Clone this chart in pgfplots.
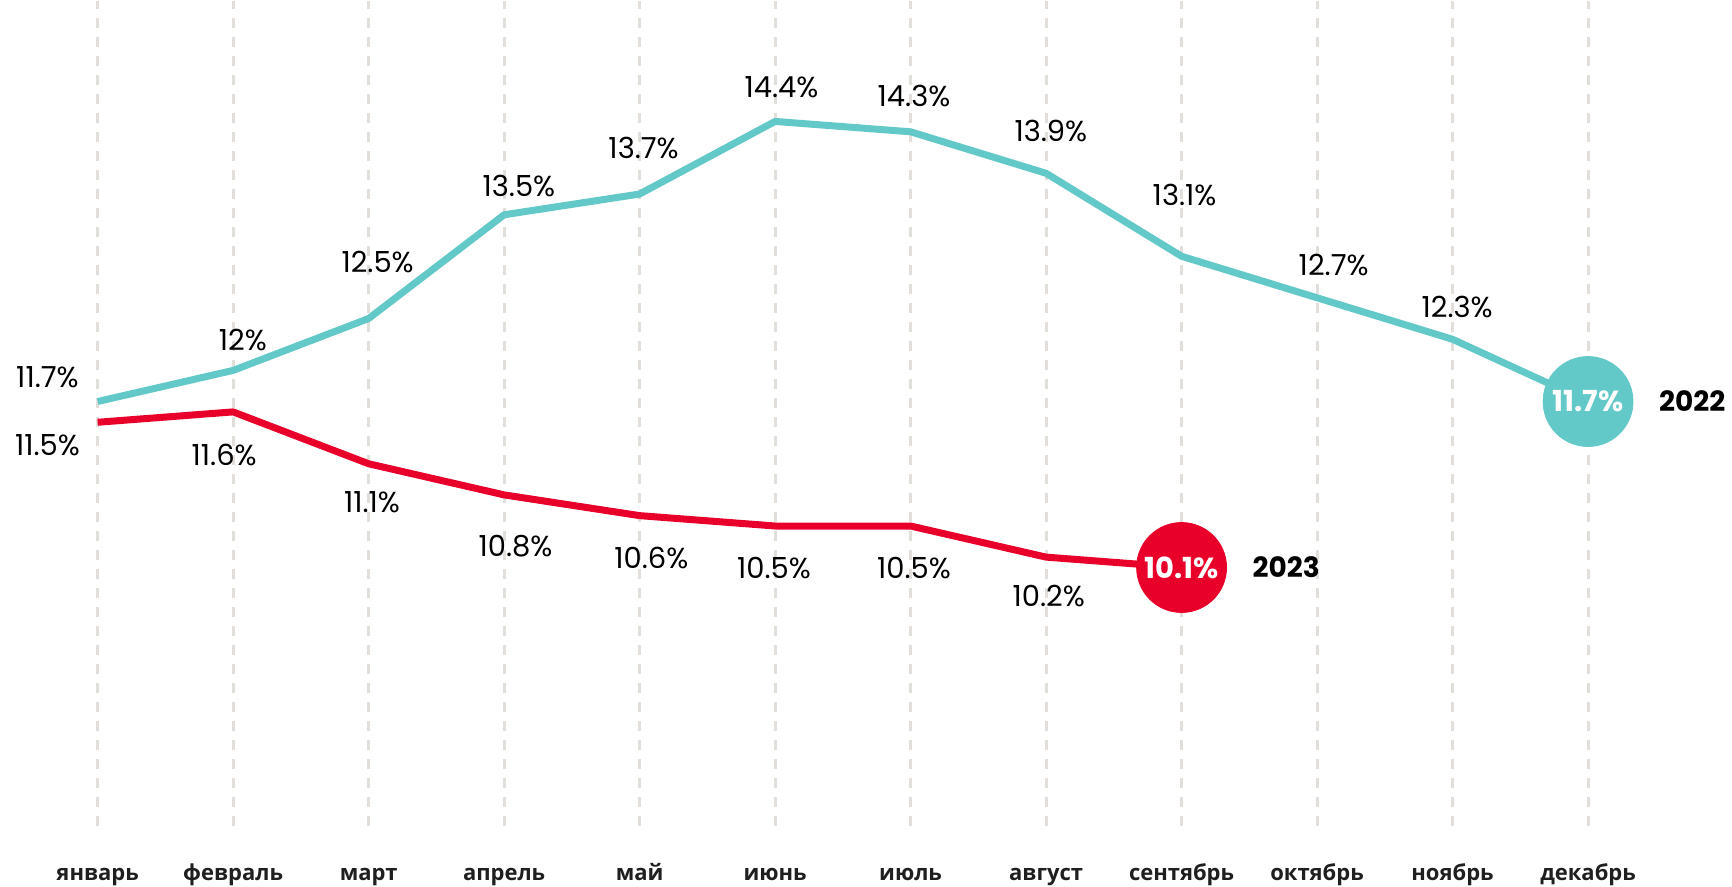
\documentclass[border=0pt]{standalone}
\usepackage{fontspec}
\setmainfont{Open Sans}
\newfontfamily\numfont{Poppins}
\usepackage{pgfplots}
\pgfplotsset{compat=1.18}
\usepackage{pgfplotstable}

\definecolor{teal22}{HTML}{63C9C8}
\definecolor{red23}{HTML}{E8002B}
\definecolor{gridc}{HTML}{E2DFDA}

\tikzset{yr/.style={pos=1, anchor=west, xshift=30.5pt, text=black, font=\numfont\bfseries\fontsize{14}{16}\selectfont}}

% month index, value, label, label offset (pt)
\pgfplotstableread{
x y lbl dx dy
0 11.7 11.7 -25.1 12.3
1 12.0 12 4.9 15.0
2 12.5 12.5 4.5 28.2
3 13.5 13.5 7.4 14.5
4 13.7 13.7 2.0 22.8
5 14.4 14.4 3.2 16.9
6 14.3 14.3 1.7 17.7
7 13.9 13.9 2.4 21.3
8 13.1 13.1 1.5 30.8
9 12.7 12.7 8.3 16.2
10 12.3 12.3 2.3 16.0
11 11.7 11.7 0 0
}\dataA

\pgfplotstableread{
x y lbl dx dy
0 11.5 11.5 -25.1 -11.5
1 11.6 11.6 -4.5 -21.7
2 11.1 11.1 1.7 -19.0
3 10.8 10.8 5.7 -25.5
4 10.6 10.6 5.9 -21.1
5 10.5 10.5 -0.6 -21.0
6 10.5 10.5 1.7 -21.0
7 10.2 10.2 1.3 -19.2
8 10.1 10.1 0 0
}\dataB

\begin{document}
\begin{tikzpicture}
\begin{axis}[
    scale only axis,
    width=866pt, height=412.5pt,
    xmin=-0.7207, xmax=12.055,
    ymin=7.608, ymax=15.556,
    axis line style={draw=none},
    tick style={draw=none},
    ytick=\empty,
    xtick={0,...,11},
    xticklabels={январь,февраль,март,апрель,май,июнь,июль,август,сентябрь,октябрь,ноябрь,декабрь},
    xticklabel style={font=\bfseries\fontsize{11}{13}\selectfont, text=black!88, anchor=base, inner sep=0pt, yshift=-27.5pt},
    xmajorgrids,
    grid style={gridc, line width=1.5pt, dash pattern=on 5pt off 4.5pt},
    clip=false,
    point meta=explicit symbolic,
    lbl/.style={
        draw=none, no marks,
        nodes near coords={\numfont\fontsize{14.5}{16}\selectfont\pgfplotspointmeta\%},
        visualization depends on={\thisrow{dx}\as\dx},
        visualization depends on={\thisrow{dy}\as\dy},
        every node near coord/.append style={anchor=center, text=black, xshift=\dx pt, yshift=\dy pt},
    },
    big/.style={
        color=#1, only marks, mark=*, mark size=22.5pt,
        mark options={draw=#1, fill=#1},
        nodes near coords={\numfont\bfseries\fontsize{14.5}{16}\selectfont\pgfplotspointmeta\%},
        every node near coord/.append style={anchor=center, text=white},
    },
]
\addplot[teal22, line width=3.5pt, line join=round]
    table[x=x, y=y] {\dataA} node[yr] {2022};
\addplot[red23, line width=3.5pt, line join=round]
    table[x=x, y=y] {\dataB} node[yr] {2023};
\addplot[lbl] table[x=x, y=y, meta=lbl, skip coords between index={11}{12}] {\dataA};
\addplot[lbl] table[x=x, y=y, meta=lbl, skip coords between index={8}{9}] {\dataB};
\addplot[big=teal22] coordinates {(11,11.7) [11.7]};
\addplot[big=red23] coordinates {(8,10.1) [10.1]};
\end{axis}
\end{tikzpicture}
\end{document}
